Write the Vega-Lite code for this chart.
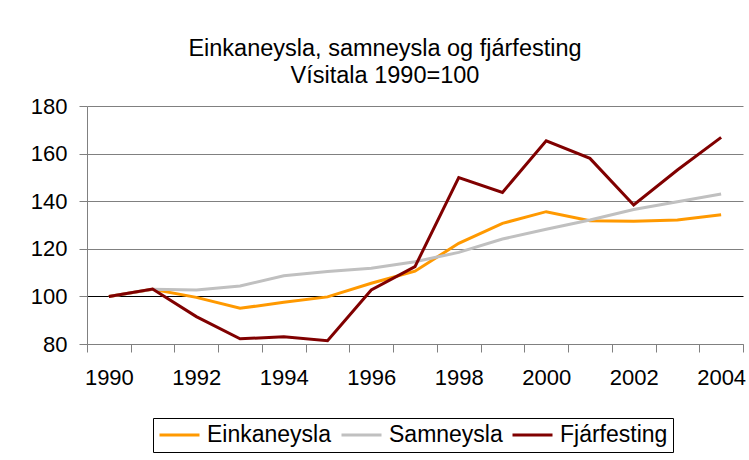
{
  "$schema": "https://vega.github.io/schema/vega-lite/v6.json",
  "width": 656,
  "height": 238,
  "autosize": {"type": "none"},
  "padding": {"left": 87, "top": 106, "right": 6, "bottom": 116},
  "background": "white",
  "config": {
    "font": "Liberation Sans",
    "view": {"stroke": null},
    "axis": {"labelColor": "black", "labelFont": "Liberation Sans", "domainColor": "#808080", "tickColor": "#808080"}
  },
  "title": {
    "text": ["Einkaneysla, samneysla og fjárfesting", "Vísitala 1990=100"],
    "fontSize": 23.5,
    "fontWeight": "normal",
    "font": "Liberation Sans",
    "color": "black",
    "lineHeight": 27,
    "anchor": "middle",
    "dx": -30,
    "offset": 8
  },
  "data": {
    "values": [
      {"year": 1990, "series": "Einkaneysla", "value": 100},
      {"year": 1991, "series": "Einkaneysla", "value": 103},
      {"year": 1992, "series": "Einkaneysla", "value": 99.6},
      {"year": 1993, "series": "Einkaneysla", "value": 95},
      {"year": 1994, "series": "Einkaneysla", "value": 97.5},
      {"year": 1995, "series": "Einkaneysla", "value": 99.8},
      {"year": 1996, "series": "Einkaneysla", "value": 105.5},
      {"year": 1997, "series": "Einkaneysla", "value": 110.6},
      {"year": 1998, "series": "Einkaneysla", "value": 122.3},
      {"year": 1999, "series": "Einkaneysla", "value": 130.7},
      {"year": 2000, "series": "Einkaneysla", "value": 135.6},
      {"year": 2001, "series": "Einkaneysla", "value": 131.8},
      {"year": 2002, "series": "Einkaneysla", "value": 131.6},
      {"year": 2003, "series": "Einkaneysla", "value": 132.1},
      {"year": 2004, "series": "Einkaneysla", "value": 134.3},
      {"year": 1990, "series": "Samneysla", "value": 100},
      {"year": 1991, "series": "Samneysla", "value": 103},
      {"year": 1992, "series": "Samneysla", "value": 102.7},
      {"year": 1993, "series": "Samneysla", "value": 104.4},
      {"year": 1994, "series": "Samneysla", "value": 108.7},
      {"year": 1995, "series": "Samneysla", "value": 110.5},
      {"year": 1996, "series": "Samneysla", "value": 111.8},
      {"year": 1997, "series": "Samneysla", "value": 114.6},
      {"year": 1998, "series": "Samneysla", "value": 118.5},
      {"year": 1999, "series": "Samneysla", "value": 124.1},
      {"year": 2000, "series": "Samneysla", "value": 128.2},
      {"year": 2001, "series": "Samneysla", "value": 132.1},
      {"year": 2002, "series": "Samneysla", "value": 136.5},
      {"year": 2003, "series": "Samneysla", "value": 139.8},
      {"year": 2004, "series": "Samneysla", "value": 143},
      {"year": 1990, "series": "Fjárfesting", "value": 100},
      {"year": 1991, "series": "Fjárfesting", "value": 103.1},
      {"year": 1992, "series": "Fjárfesting", "value": 91.5},
      {"year": 1993, "series": "Fjárfesting", "value": 82.2},
      {"year": 1994, "series": "Fjárfesting", "value": 83},
      {"year": 1995, "series": "Fjárfesting", "value": 81.4},
      {"year": 1996, "series": "Fjárfesting", "value": 102.7},
      {"year": 1997, "series": "Fjárfesting", "value": 112.5},
      {"year": 1998, "series": "Fjárfesting", "value": 149.9},
      {"year": 1999, "series": "Fjárfesting", "value": 143.7},
      {"year": 2000, "series": "Fjárfesting", "value": 165.4},
      {"year": 2001, "series": "Fjárfesting", "value": 158},
      {"year": 2002, "series": "Fjárfesting", "value": 138.4},
      {"year": 2003, "series": "Fjárfesting", "value": 153.1},
      {"year": 2004, "series": "Fjárfesting", "value": 166.8}
    ]
  },
  "mark": {"type": "line", "strokeWidth": 3},
  "encoding": {
    "x": {
      "field": "year",
      "type": "ordinal",
      "bandPosition": 0.5,
      "scale": {"type": "band", "paddingInner": 0, "paddingOuter": 0},
      "axis": {
        "title": null,
        "labelAngle": 0,
        "labelFontSize": 22,
        "labelPadding": 15,
        "tickSize": 8,
        "tickBand": "extent",
        "grid": false,
        "labelExpr": "toNumber(datum.value) % 2 === 0 ? datum.label : ''"
      }
    },
    "y": {
      "field": "value",
      "type": "quantitative",
      "scale": {"domain": [80, 180], "nice": false, "zero": false},
      "axis": {
        "title": null,
        "values": [80, 100, 120, 140, 160, 180],
        "labelFontSize": 22,
        "labelPadding": 12,
        "tickSize": 8,
        "grid": true,
        "gridColor": {"condition": {"test": "datum.value === 100", "value": "black"}, "value": "#808080"},
        "gridOpacity": 1
      }
    },
    "color": {
      "field": "series",
      "type": "nominal",
      "scale": {"domain": ["Einkaneysla", "Samneysla", "Fjárfesting"], "range": ["#FF9900", "#C0C0C0", "#800000"]},
      "legend": {
        "title": null,
        "orient": "none",
        "legendX": 66,
        "legendY": 312,
        "direction": "horizontal",
        "symbolType": "stroke",
        "symbolSize": 1600,
        "symbolStrokeWidth": 3,
        "clipHeight": 24,
        "labelFontSize": 23,
        "labelColor": "black",
        "labelFont": "Liberation Sans",
        "labelOffset": 6,
        "columnPadding": 8,
        "strokeColor": "black",
        "padding": 5
      }
    }
  }
}
